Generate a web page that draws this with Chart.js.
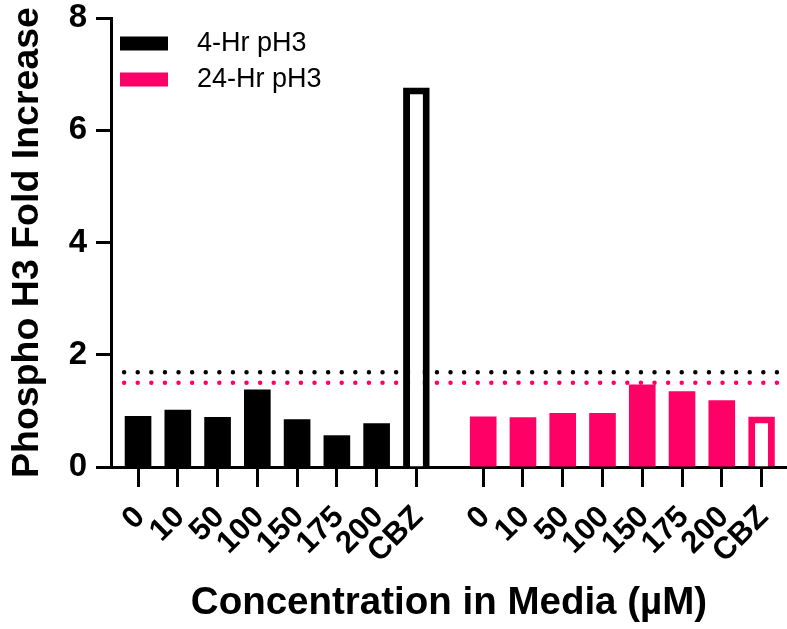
<!DOCTYPE html>
<html>
<head>
<meta charset="utf-8">
<title>Phospho H3 Fold Increase</title>
<script src="https://cdn.jsdelivr.net/npm/chart.js@4.4.1/dist/chart.umd.min.js"></script>
<style>
  html, body { margin: 0; padding: 0; background: #fff; }
</style>
</head>
<body>
<canvas id="ph3Chart" width="787" height="629"></canvas>
<script>
// values
const concentrations = ["0", "10", "50", "100", "150", "175", "200", "CBZ"];
const hr4Values = [0.91, 1.02, 0.89, 1.38, 0.85, 0.565, 0.78, 6.76];
const hr24Values = [0.90, 0.886, 0.96, 0.96, 1.47, 1.35, 1.19, 0.90];
const hr4Threshold = 1.69;
const hr24Threshold = 1.50;

const BLACK = "#000000";
const PINK = "#ff0066";
const FONT = "'Liberation Sans', Arial, Helvetica, sans-serif";
const GROUP_GAP = 0.68; // extra room between the two groups (in bar slots)

// x slots for both groups on one linear axis
const xs4 = concentrations.map((_, i) => i);
const xs24 = concentrations.map((_, i) => i + concentrations.length + GROUP_GAP);
const allXs = xs4.concat(xs24);
const allLabels = concentrations.concat(concentrations);
const lineStart = xs4[0] - 0.35;
const lineEnd = xs24[xs24.length - 1] + 0.39;

const fillFor = (color) => concentrations.map((c) => (c === "CBZ" ? "#ffffff" : color));
const borderFor = () => concentrations.map((c) => (c === "CBZ" ? 7 : 0));

// legend drawn inside the plot, top left
const cornerLegend = {
  id: "cornerLegend",
  afterDatasetsDraw(chart) {
    const { ctx, chartArea } = chart;
    const items = chart.data.datasets.filter((d) => d.type !== "line");
    ctx.save();
    ctx.font = "27px " + FONT;
    ctx.textBaseline = "middle";
    ctx.textAlign = "left";
    items.forEach((d, i) => {
      const y = chartArea.top + 25.5 + i * 36;
      ctx.fillStyle = d.borderColor;
      ctx.fillRect(chartArea.left + 9, y - 7, 48, 14);
      ctx.fillStyle = BLACK;
      ctx.fillText(d.label, chartArea.left + 86, y);
    });
    ctx.restore();
  },
};

const ctx = document.getElementById("ph3Chart").getContext("2d");
new Chart(ctx, {
  type: "bar",
  data: {
    datasets: [
      {
        label: "4-Hr pH3",
        data: hr4Values.map((v, i) => ({ x: xs4[i], y: v })),
        backgroundColor: fillFor(BLACK),
        borderColor: BLACK,
        borderWidth: borderFor(),
        grouped: false,
        barPercentage: 0.67,
        categoryPercentage: 1,
        order: 1,
      },
      {
        label: "24-Hr pH3",
        data: hr24Values.map((v, i) => ({ x: xs24[i], y: v })),
        backgroundColor: fillFor(PINK),
        borderColor: PINK,
        borderWidth: borderFor(),
        grouped: false,
        barPercentage: 0.67,
        categoryPercentage: 1,
        order: 1,
      },
      {
        type: "line",
        label: "4-Hr threshold",
        data: [{ x: lineStart, y: hr4Threshold }, { x: lineEnd, y: hr4Threshold }],
        borderColor: BLACK,
        borderWidth: 4.5,
        borderDash: [0, 13.6],
        borderCapStyle: "round",
        pointRadius: 0,
        fill: false,
        order: 2,
      },
      {
        type: "line",
        label: "24-Hr threshold",
        data: [{ x: lineStart, y: hr24Threshold }, { x: lineEnd, y: hr24Threshold }],
        borderColor: PINK,
        borderWidth: 4.5,
        borderDash: [0, 13.6],
        borderCapStyle: "round",
        pointRadius: 0,
        fill: false,
        order: 2,
      },
    ],
  },
  options: {
    responsive: false,
    animation: false,
    layout: { padding: { top: 18, left: 0, right: 0, bottom: 0 } },
    plugins: {
      legend: { display: false },
      tooltip: { enabled: false },
    },
    scales: {
      x: {
        type: "linear",
        offset: false,
        min: -0.68,
        max: xs24[xs24.length - 1] + 0.64,
        afterBuildTicks: (scale) => {
          scale.ticks = allXs.map((v) => ({ value: v }));
        },
        afterFit: (scale) => {
          scale.height = 162;
          scale.paddingLeft = 0;
          scale.paddingRight = 0;
        },
        grid: {
          offset: false,
          drawOnChartArea: false,
          drawTicks: true,
          tickLength: 20,
          tickWidth: 3,
          tickColor: BLACK,
        },
        border: { display: true, width: 3, color: BLACK },
        ticks: {
          autoSkip: false,
          minRotation: 45,
          maxRotation: 45,
          padding: 12,
          labelOffset: 2,
          color: BLACK,
          font: { family: FONT, size: 31, weight: "bold" },
          callback: (value, index) => allLabels[index],
        },
        title: {
          display: true,
          text: "Concentration in Media (µM)",
          color: BLACK,
          font: { family: FONT, size: 38.5, weight: "bold" },
          padding: { top: 0, bottom: 2.5 },
        },
      },
      y: {
        min: 0,
        max: 8,
        afterFit: (scale) => {
          scale.width = 111;
          scale.paddingTop = 0;
          scale.paddingBottom = 0;
        },
        grid: {
          drawOnChartArea: false,
          drawTicks: true,
          tickLength: 15,
          tickWidth: 3,
          tickColor: BLACK,
        },
        border: { display: true, width: 3, color: BLACK },
        ticks: {
          stepSize: 2,
          padding: 9,
          color: BLACK,
          font: { family: FONT, size: 33, weight: "bold" },
        },
        title: {
          display: true,
          text: "Phospho H3 Fold Increase",
          color: BLACK,
          font: { family: FONT, size: 37.5, weight: "bold" },
          padding: { top: 5, bottom: 0 },
        },
      },
    },
  },
  plugins: [cornerLegend],
});
</script>
</body>
</html>
